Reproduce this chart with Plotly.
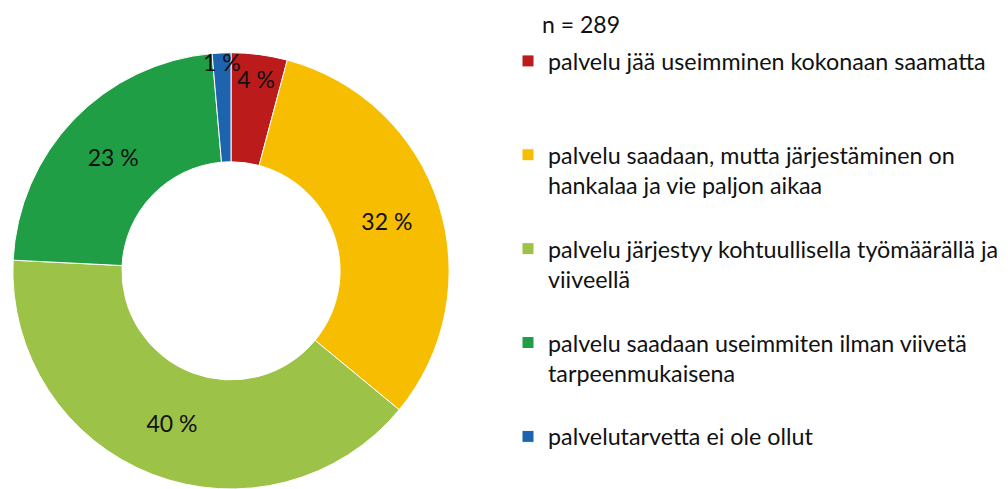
import plotly.graph_objects as go

categories = [
    "palvelu jää useimminen kokonaan saamatta<br> <br> ",
    "palvelu saadaan, mutta järjestäminen on<br>hankalaa ja vie paljon aikaa<br> ",
    "palvelu järjestyy kohtuullisella työmäärällä ja<br>viiveellä<br> ",
    "palvelu saadaan useimmiten ilman viivetä<br>tarpeenmukaisena<br> ",
    "palvelutarvetta ei ole ollut",
]
counts = [12, 92, 115, 66, 4]
value_labels = ["4 %", "32 %", "40 %", "23 %", "1 %"]
colors = ["#BC1B1C", "#F7BD00", "#9CC348", "#1F9E46", "#1E63AE"]
n_label = "n = 289"

FONT = "Lato"
FS = 23
LEG_FS = 23.3

fig = go.Figure(
    go.Pie(
        labels=categories,
        values=counts,
        text=value_labels,
        textinfo="text",
        textposition="inside",
        insidetextorientation="horizontal",
        hole=0.5,
        sort=False,
        direction="clockwise",
        rotation=0,
        marker=dict(colors=colors, line=dict(color="white", width=1)),
        textfont=dict(family=FONT, size=FS, color="#111111"),
        domain=dict(x=[4 / 1000, 442 / 1000], y=[0, 0.907]),
    )
)

fig.update_layout(
    width=1000,
    height=481,
    margin=dict(l=0, r=0, t=0, b=0),
    paper_bgcolor="white",
    plot_bgcolor="white",
    font=dict(family=FONT, size=FS, color="#111111"),
    uniformtext=dict(minsize=FS, mode="show"),
    showlegend=True,
    legend=dict(
        x=0.500,
        y=0.935,
        xanchor="left",
        yanchor="top",
        valign="top",
        bgcolor="rgba(0,0,0,0)",
        font=dict(family=FONT, size=LEG_FS, color="#111111"),
        itemwidth=30,
    ),
    annotations=[
        dict(
            text=n_label,
            x=532 / 1000,
            y=1,
            xref="paper",
            yref="paper",
            xanchor="left",
            yanchor="top",
            showarrow=False,
            font=dict(family=FONT, size=FS, color="#111111"),
        )
    ],
)

fig.write_html("out.html")
